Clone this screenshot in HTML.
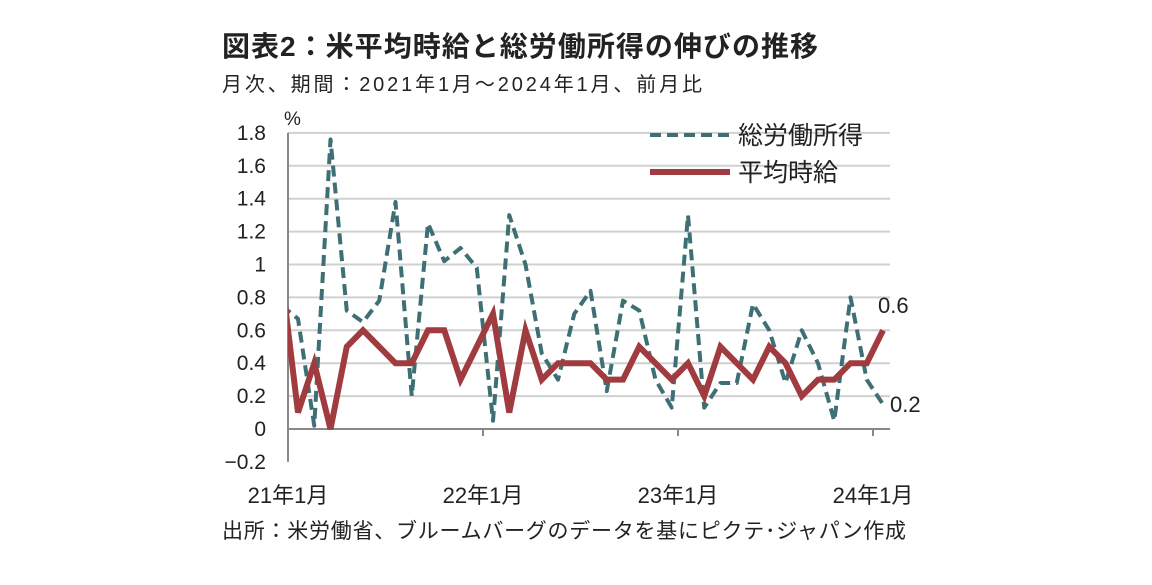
<!DOCTYPE html>
<html><head><meta charset="utf-8"><style>
body{margin:0;background:#fff;width:1152px;height:580px;overflow:hidden}
svg text{font-family:"Liberation Sans","Noto Sans CJK JP",sans-serif;fill:#222}
</style></head><body>
<svg id="chart" width="1152" height="580" viewBox="0 0 1152 580">
<text x="222" y="56" font-size="28" font-weight="bold" textLength="596" lengthAdjust="spacing">図表2：米平均時給と総労働所得の伸びの推移</text>
<text x="222" y="91" font-size="20" fill="#333" textLength="480" lengthAdjust="spacing">月次、期間：2021年1月～2024年1月、前月比</text>
<text x="284" y="125" font-size="19">%</text>
<text x="222" y="538" font-size="21" textLength="684" lengthAdjust="spacing">出所：米労働省、ブルームバーグのデータを基にピクテ･ジャパン作成</text>
<g id="grid"></g><g id="yt"></g><g id="xt"></g>
<defs><clipPath id="clip"><rect x="288" y="100" width="620" height="400"/></clipPath></defs>
<g clip-path="url(#clip)" id="series"></g>
<g>
<line x1="650" y1="135" x2="730" y2="135" stroke="#3e6f75" stroke-width="4" stroke-dasharray="11,6"/>
<text x="738" y="144" font-size="25">総労働所得</text>
<line x1="650" y1="172" x2="730" y2="172" stroke="#a03b40" stroke-width="6"/>
<text x="738" y="181" font-size="25">平均時給</text>
</g>
<text x="878" y="313" font-size="22">0.6</text>
<text x="890" y="412" font-size="22">0.2</text>
</svg>
<script>
const months = 37;
const yTicks = [-0.2,0,0.2,0.4,0.6,0.8,1,1.2,1.4,1.6,1.8];
const yTickLabels = ["−0.2","0","0.2","0.4","0.6","0.8","1","1.2","1.4","1.6","1.8"];
const xTickIdx = [0,12,24,36];
const xTickLabels = ["21年1月","22年1月","23年1月","24年1月"];
// index -1 = Dec 2020 (clipped)
const hourly = [0.92,0.1,0.4,0.0,0.5,0.6,0.5,0.4,0.4,0.6,0.6,0.3,0.5,0.7,0.1,0.6,0.3,0.4,0.4,0.4,0.3,0.3,0.5,0.4,0.3,0.4,0.2,0.5,0.4,0.3,0.5,0.4,0.2,0.3,0.3,0.4,0.4,0.6];
const income = [0.75,0.67,0.02,1.76,0.72,0.65,0.78,1.38,0.2,1.25,1.02,1.1,0.98,0.05,1.3,1.0,0.46,0.3,0.7,0.84,0.23,0.78,0.72,0.3,0.13,1.3,0.13,0.28,0.28,0.76,0.6,0.28,0.6,0.4,0.05,0.8,0.3,0.15];
const NS="http://www.w3.org/2000/svg";
const xp = i => 298 + i*16.25;
const yp = v => 429 - v*164.5;
function mk(t,a,p){const e=document.createElementNS(NS,t);for(const k in a)e.setAttribute(k,a[k]);p.appendChild(e);return e;}
const grid=document.getElementById('grid'),yt=document.getElementById('yt'),xt=document.getElementById('xt'),ser=document.getElementById('series');
yTicks.forEach((v,k)=>{
  if(v>0){const g=mk('line',{x1:288,x2:890,y1:yp(v),y2:yp(v),stroke:'#d0d0d0','stroke-width':2},grid);
  
  }
  const t=mk('text',{x:266,y:yp(v)+7,'text-anchor':'end','font-size':21},yt);t.textContent=yTickLabels[k];
  
  
});
const ya=mk('line',{x1:288,x2:288,y1:yp(1.8),y2:yp(-0.2),stroke:'#888','stroke-width':2},grid);


const xa=mk('line',{x1:288,x2:890,y1:yp(0),y2:yp(0),stroke:'#888','stroke-width':2},grid);


xTickIdx.forEach((i,k)=>{
  const x=xp(i)-10;
  mk('line',{x1:x,x2:x,y1:yp(0),y2:yp(0)+7,stroke:'#888','stroke-width':2},xt);
  const t=mk('text',{x:x,y:503,'text-anchor':'middle','font-size':22},xt);t.textContent=xTickLabels[k];
  
  
});
function pts(arr){return arr.map((v,j)=>xp(j-1)+','+yp(v)).join(' ');}
const l1=mk('polyline',{points:pts(income),fill:'none',stroke:'#3e6f75','stroke-width':4,'stroke-dasharray':'11,6','stroke-linejoin':'round'},ser);


const l2=mk('polyline',{points:pts(hourly),fill:'none',stroke:'#a03b40','stroke-width':6,'stroke-linejoin':'miter'},ser);


</script>
</body></html>
